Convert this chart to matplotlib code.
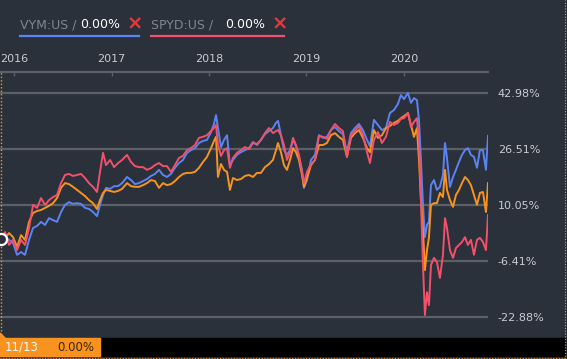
import matplotlib
matplotlib.use("Agg")
import matplotlib.pyplot as plt
from matplotlib.patches import Rectangle, Polygon
from matplotlib.lines import Line2D

# ---------------- data (decimal year, % return since 11/13) ----------------
t = [2015.867, 2015.908, 2015.949, 2015.990, 2016.031, 2016.072, 2016.113, 2016.154,
     2016.195, 2016.236, 2016.277, 2016.318, 2016.359, 2016.400, 2016.441, 2016.482,
     2016.523, 2016.564, 2016.605, 2016.646, 2016.687, 2016.728, 2016.769, 2016.810,
     2016.851, 2016.882, 2016.913, 2016.944, 2016.985, 2017.026, 2017.067, 2017.108,
     2017.159, 2017.200, 2017.241, 2017.282, 2017.323, 2017.364, 2017.405, 2017.446,
     2017.487, 2017.528, 2017.569, 2017.610, 2017.651, 2017.692, 2017.733, 2017.774,
     2017.815, 2017.856, 2017.897, 2017.938, 2017.979, 2018.021, 2018.051, 2018.072,
     2018.092, 2018.123, 2018.154, 2018.185, 2018.215, 2018.246, 2018.287, 2018.328,
     2018.369, 2018.410, 2018.451, 2018.492, 2018.533, 2018.574, 2018.615, 2018.656,
     2018.687, 2018.708, 2018.738, 2018.769, 2018.800, 2018.831, 2018.862, 2018.892,
     2018.923, 2018.954, 2018.974, 2019.005, 2019.046, 2019.087, 2019.128, 2019.169,
     2019.210, 2019.251, 2019.292, 2019.333, 2019.374, 2019.415, 2019.456, 2019.497,
     2019.538, 2019.579, 2019.621, 2019.651, 2019.692, 2019.733, 2019.774, 2019.815,
     2019.856, 2019.897, 2019.938, 2019.969, 2020.000, 2020.041, 2020.072, 2020.103,
     2020.133, 2020.154, 2020.174, 2020.195, 2020.215, 2020.236, 2020.256, 2020.277,
     2020.308, 2020.338, 2020.369, 2020.400, 2020.421, 2020.441, 2020.472, 2020.503,
     2020.533, 2020.564, 2020.595, 2020.626, 2020.656, 2020.687, 2020.718, 2020.749,
     2020.779, 2020.810, 2020.841, 2020.862]

vym = [0.0, 0.4, -0.2, -1.1, -4.6, -3.8, -4.6, -0.2, 3.3, 3.9, 5.1, 4.2, 6.2, 5.6, 5.1, 8.0,
       10.1, 10.9, 10.4, 10.6, 10.4, 9.2, 8.9, 8.0, 6.8, 10.1, 13.0, 15.1, 14.8, 15.6, 15.6, 16.5,
       18.3, 17.4, 16.2, 16.5, 17.1, 17.7, 18.6, 19.2, 20.4, 18.9, 18.3, 19.2, 21.0, 22.4, 23.3, 25.4,
       26.2, 26.8, 28.3, 28.9, 29.2, 31.5, 33.9, 36.5, 32.7, 27.1, 29.2, 30.6, 21.8, 23.3, 24.8, 25.6,
       26.2, 26.8, 28.6, 27.7, 29.2, 30.9, 31.8, 32.7, 34.2, 34.8, 30.6, 26.2, 24.8, 26.2, 29.2, 27.4,
       24.2, 20.4, 15.1, 17.4, 23.3, 24.8, 30.6, 29.8, 30.1, 32.1, 33.0, 31.8, 30.9, 25.6, 31.2, 32.7,
       33.9, 32.1, 29.2, 27.4, 35.1, 33.6, 32.1, 32.7, 37.1, 38.0, 39.8, 42.4, 41.2, 43.0, 40.1, 41.5,
       40.9, 35.1, 23.3, 10.1, 0.6, 4.2, 5.1, 15.9, 17.4, 14.5, 15.4, 18.9, 28.3, 23.9, 15.4, 18.3,
       20.4, 22.7, 24.8, 26.2, 26.8, 24.8, 24.2, 21.0, 26.2, 26.2, 20.4, 30.4]

spyd = [0.0, 2.1, -1.7, -0.2, -3.2, -0.2, -1.7, 3.3, 10.1, 9.2, 12.1, 10.1, 11.5, 12.4, 13.0, 16.5,
        18.9, 19.2, 18.6, 18.9, 19.2, 18.0, 16.5, 15.4, 13.9, 19.8, 25.4, 21.8, 23.3, 21.2, 22.4, 23.3,
        24.8, 22.7, 21.5, 21.2, 21.2, 20.4, 20.9, 21.8, 22.4, 21.5, 21.5, 19.8, 21.8, 23.9, 24.5, 26.2,
        26.8, 27.7, 29.8, 30.1, 30.6, 31.8, 32.7, 33.6, 27.7, 24.5, 26.2, 26.8, 21.0, 23.9, 25.4, 26.2,
        27.1, 26.5, 28.3, 28.0, 29.2, 31.2, 32.7, 31.2, 31.8, 32.1, 30.6, 27.7, 23.3, 25.6, 29.8, 27.7,
        24.8, 19.8, 16.5, 19.8, 22.1, 23.3, 30.4, 30.1, 29.5, 32.1, 33.9, 32.7, 31.8, 24.2, 30.6, 31.8,
        33.3, 30.6, 25.6, 22.4, 29.2, 31.5, 28.3, 30.1, 34.5, 33.6, 34.2, 35.4, 35.6, 37.1, 33.0, 34.5,
        35.6, 29.2, 11.5, -7.6, -22.3, -15.6, -19.4, -7.6, -5.5, -6.7, -11.4, -4.6, 6.2, 3.3, -3.2, -5.5,
        -2.6, -1.7, -0.8, 0.6, -1.7, -0.2, -4.6, -0.2, 0.4, -0.8, -3.2, 7.1]

other = [0.0, 0.4, 1.8, 0.6, -2.3, 1.2, -0.2, 5.1, 7.7, 8.3, 8.6, 9.2, 9.8, 10.6, 12.1, 15.1,
         16.5, 16.2, 15.4, 14.5, 13.6, 12.7, 11.5, 10.6, 8.9, 11.5, 13.6, 14.5, 14.2, 13.9, 14.2, 14.8,
         16.5, 15.6, 15.4, 15.4, 15.9, 16.5, 17.4, 17.1, 15.1, 16.5, 15.9, 16.2, 17.1, 18.3, 19.2, 19.5,
         19.5, 19.8, 21.0, 22.7, 24.2, 26.8, 28.9, 30.1, 18.3, 22.1, 20.4, 19.8, 14.5, 18.0, 17.4, 17.7,
         18.6, 18.9, 18.3, 19.5, 19.5, 21.2, 22.1, 23.3, 26.2, 28.3, 25.6, 21.8, 20.4, 23.3, 26.8, 25.6,
         23.3, 18.9, 15.4, 18.0, 21.8, 23.3, 27.7, 27.7, 28.3, 30.6, 31.2, 30.1, 29.2, 24.2, 29.8, 31.2,
         32.1, 29.8, 26.8, 25.6, 32.1, 29.8, 30.6, 32.7, 33.3, 34.2, 34.8, 35.6, 36.2, 37.1, 33.6, 30.1,
         32.7, 23.3, 11.5, 2.7, -9.1, -3.2, 0.4, 10.1, 10.6, 10.6, 13.6, 12.4, 20.4, 14.5, 11.5, 9.5,
         13.0, 14.5, 16.5, 18.3, 17.4, 15.9, 13.0, 10.1, 13.6, 13.9, 8.0, 16.5]

year_ticks = [2016, 2017, 2018, 2019, 2020]
year_labels = ["2016", "2017", "2018", "2019", "2020"]
grid_vals = [42.98, 26.51, 10.05, -6.41, -22.88]
grid_labels = ["42.98%", "26.51%", "10.05%", "-6.41%", "-22.88%"]

# ---------------- style ----------------
BG = "#2a313b"
GRID = "#5b6067"
TXT = "#c9ccd0"
BLUE = "#5b84f2"
RED = "#f2506b"
ORANGE = "#f7931e"

W, H = 567, 359
fig = plt.figure(figsize=(W / 100, H / 100), dpi=100, facecolor=BG)

ax_l, ax_r, ax_t, ax_b = 0, 488, 72, 338
ax = fig.add_axes([ax_l / W, (H - ax_b) / H, (ax_r - ax_l) / W, (ax_b - ax_t) / H])
ax.set_facecolor(BG)

ax.plot(t, vym, color=BLUE, lw=1.4, zorder=3, solid_joinstyle="round")
ax.plot(t, other, color=ORANGE, lw=1.4, zorder=4, solid_joinstyle="round")
ax.plot(t, spyd, color=RED, lw=1.4, zorder=5, solid_joinstyle="round")

ax.set_xlim(2015.856, 2020.862)
ax.set_ylim(-29.06, 49.18)

# y grid / labels on right
ax.set_yticks(grid_vals)
ax.set_yticklabels(grid_labels)
ax.yaxis.tick_right()
ax.tick_params(axis="y", length=0, pad=7, labelsize=8, labelcolor=TXT)
ax.grid(axis="y", color=GRID, lw=1.6, zorder=1)

# x axis on top
ax.xaxis.tick_top()
ax.set_xticks(year_ticks)
ax.set_xticklabels(year_labels)
ax.tick_params(axis="x", direction="in", length=3, width=1, color=GRID,
               pad=6, labelsize=8, labelcolor=TXT)
for s in ["left", "right", "bottom"]:
    ax.spines[s].set_visible(False)
ax.spines["top"].set_color(GRID)
ax.spines["top"].set_linewidth(1.6)

# start marker and cursor line
ax.axvline(t[0], color=ORANGE, lw=1, ls=(0, (1, 1.5)), zorder=6)
ax.plot([t[0]], [0], marker="o", ms=8, mfc=BG, mec="white", mew=1.6, zorder=7, clip_on=False)

# ---------------- header legend ----------------
def px(x, y):
    return x / W, 1 - y / H

fs = 9
fig.text(*px(20, 25), "VYM:US / ", color="#7f868e", fontsize=fs, va="center", ha="left")
fig.text(*px(80, 25), "0.00%", color="white", fontsize=fs, va="center", ha="left")
fig.text(*px(134.5, 24), "\u00d7", color="#e8383d", fontsize=14, fontweight="bold",
         va="center", ha="center")
fig.text(*px(151, 25), "SPYD:US / ", color="#7f868e", fontsize=fs, va="center", ha="left")
fig.text(*px(225, 25), "0.00%", color="white", fontsize=fs, va="center", ha="left")
fig.text(*px(280, 24), "\u00d7", color="#e8383d", fontsize=14, fontweight="bold",
         va="center", ha="center")
fig.add_artist(Line2D([20 / W, 139 / W], [1 - 36 / H] * 2, color=BLUE, lw=1.6))
fig.add_artist(Line2D([151 / W, 284 / W], [1 - 36 / H] * 2, color=RED, lw=1.6))

# ---------------- bottom bar ----------------
fig.add_artist(Rectangle((100 / W, 1 - 356 / H), 465 / W, 18 / H, color="black",
                         transform=fig.transFigure))
fig.add_artist(Rectangle((0, 1 - 356 / H), 100 / W, 18 / H, color=ORANGE,
                         transform=fig.transFigure))
fig.add_artist(Polygon([(0, 1 - 338 / H), (0, 1 - 333 / H), (5 / W, 1 - 338 / H)],
                       closed=True, color=ORANGE, transform=fig.transFigure))
fig.text(*px(5, 347.5), "11/13", color="white", fontsize=8.5, va="center", ha="left")
fig.text(*px(57, 347.5), "0.00%", color="#3a2508", fontsize=8.5, va="center", ha="left")

# dotted orange frame right/bottom
fig.add_artist(Line2D([565 / W, 565 / W], [0, 1], color=ORANGE, lw=0.8, ls=(0, (1, 1.5))))
fig.add_artist(Line2D([0, 1], [1 - 357.5 / H] * 2, color=ORANGE, lw=0.8, ls=(0, (1, 1.5))))

fig.savefig("out.png", dpi=100, facecolor=BG)
